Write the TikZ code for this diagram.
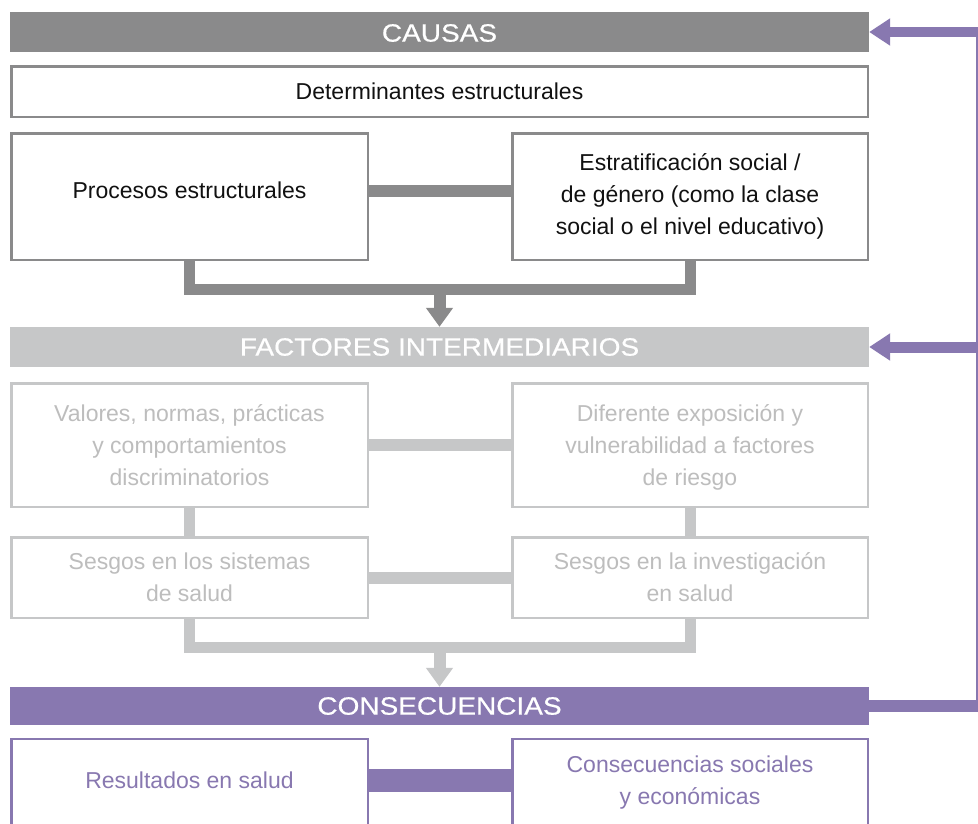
\documentclass[tikz,border=0pt]{standalone}
\usepackage{fontspec}
\setmainfont{Liberation Sans}
\newfontfamily\titlefont{Liberation Sans}[FakeStretch=1.12,FakeBold=0.6]
\usetikzlibrary{arrows.meta}
\definecolor{dgray}{HTML}{8A8A8B}
\definecolor{lgray}{HTML}{C6C7C8}
\definecolor{ltext}{HTML}{BDBDBD}
\definecolor{purp}{HTML}{8878B0}
\definecolor{btext}{HTML}{111111}
\newcommand{\shiftup}[2]{\raisebox{#1}[\height][\depth]{#2}}
\tikzset{
 bar/.style={fill=#1, inner sep=0pt, minimum width=859pt, text=white, font=\titlefont\fontsize{25}{30}\selectfont},
 box/.style={draw=#1, line width=2.5pt, inner sep=0pt, align=center, font=\fontsize{23}{32}\selectfont},
 lbox/.style={box=#1, minimum width=356.5pt},
 rbox/.style={box=#1, minimum width=355.5pt},
 arr/.style={-{Triangle[width=26pt,length=19pt]}},
 fbarr/.style={-{Triangle[width=26pt,length=21pt]}},
}
\begin{document}
\begin{tikzpicture}[x=1pt,y=-1pt]
\clip (0,0) rectangle (978,823);
\fill[white] (0,0) rectangle (978,823);

% ---------- CAUSAS ----------
\node[bar=dgray, minimum height=40pt] (causas) at (439.5,32) {\shiftup{-1pt}{CAUSAS}};
\node[box=dgray, text=btext, minimum width=856.5pt, minimum height=50.5pt] (det) at (439.5,91.5) {Determinantes estructurales};
\node[lbox=dgray, text=btext, minimum height=126.5pt] (proc) at (189.5,196.5) {\shiftup{6pt}{Procesos estructurales}};
\node[rbox=dgray, text=btext, minimum height=126.5pt] (estr) at (690,196.5) {Estratificación social /\\ de género (como la clase\\ social o el nivel educativo)};
\draw[dgray, line width=12pt] ([yshift=5.5pt]proc.east) -- ([yshift=5.5pt]estr.west);
\coordinate (b1) at (439.5,289);
\draw[dgray, line width=11pt] (proc.south) -- (proc.south |- b1) -| (estr.south);

% ---------- FACTORES ----------
\node[bar=lgray, minimum height=40pt] (fact) at (439.5,347) {FACTORES INTERMEDIARIOS};
\draw[dgray, line width=12pt, arr] (b1) -- (fact.north);

\node[lbox=lgray, text=ltext, minimum height=123.5pt] (val) at (189.5,445) {\shiftup{-2pt}{\begin{tabular}{@{}c@{}}Valores, normas, prácticas\\ y comportamientos\\ discriminatorios\end{tabular}}};
\node[rbox=lgray, text=ltext, minimum height=123.5pt] (dif) at (690,445) {\shiftup{-2pt}{\begin{tabular}{@{}c@{}}Diferente exposición y\\ vulnerabilidad a factores\\ de riesgo\end{tabular}}};
\node[lbox=lgray, text=ltext, minimum height=80.5pt] (ses1) at (189.5,577.5) {Sesgos en los sistemas\\ de salud};
\node[rbox=lgray, text=ltext, minimum height=80.5pt] (ses2) at (690,577.5) {Sesgos en la investigación\\ en salud};
\draw[lgray, line width=12pt] (val.east) -- (dif.west);
\draw[lgray, line width=12pt] (ses1.east) -- (ses2.west);
\draw[lgray, line width=11pt] (val.south) -- (ses1.north);
\draw[lgray, line width=11pt] (dif.south) -- (ses2.north);
\coordinate (b2) at (439.5,647);
\draw[lgray, line width=11pt] (ses1.south) -- (ses1.south |- b2) -| (ses2.south);

% ---------- CONSECUENCIAS ----------
\node[bar=purp, minimum height=38pt] (cons) at (439.5,706) {CONSECUENCIAS};
\draw[lgray, line width=12pt, arr] (b2) -- (cons.north);
\node[lbox=purp, text=purp, minimum height=90.75pt] (res) at (189.5,784.6) {\shiftup{4pt}{Resultados en salud}};
\node[rbox=purp, text=purp, minimum height=90.75pt] (soc) at (690,784.6) {\shiftup{2.5pt}{\begin{tabular}{@{}c@{}}Consecuencias sociales\\ y económicas\end{tabular}}};
\draw[purp, line width=23pt] ([yshift=4.5pt]res.east) -- ([yshift=4.5pt]soc.west);

% ---------- feedback ----------
\coordinate (ftop) at (977,28);
\coordinate (fbot) at (977,712);
\coordinate (fa) at (978,32);
\coordinate (fb) at (978,347);
\coordinate (fc) at (978,706);
\draw[purp, line width=2.2pt] (ftop) -- (fbot);
\draw[purp, line width=10pt, fbarr] (fa) -- (causas.east);
\draw[purp, line width=11pt, fbarr] (fb) -- (fact.east);
\draw[purp, line width=12pt] (cons.east) -- (fc);
\end{tikzpicture}
\end{document}
